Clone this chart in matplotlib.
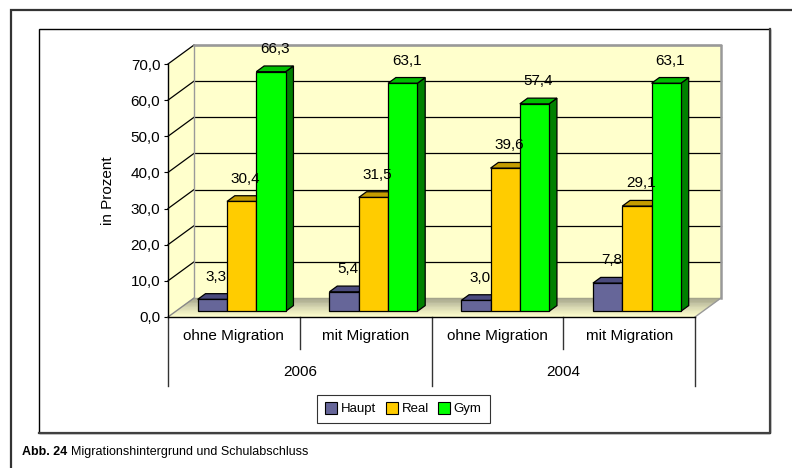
import matplotlib
matplotlib.use("Agg")
import matplotlib.pyplot as plt
from matplotlib import transforms
from matplotlib.patches import Polygon, Rectangle
from matplotlib.lines import Line2D

plt.rcParams['font.family'] = ['Liberation Sans', 'DejaVu Sans']

# data
series = ['Haupt', 'Real', 'Gym']
groups = ['ohne Migration', 'mit Migration', 'ohne Migration', 'mit Migration']
years = ['2006', '2004']
haupt = [3.3, 5.4, 3.0, 7.8]
real = [30.4, 31.5, 39.6, 29.1]
gym = [66.3, 63.1, 57.4, 63.1]
yticks = [0, 10, 20, 30, 40, 50, 60, 70]

front_colors = ['#666699', '#FFCC00', '#00FF00']
top_colors = ['#4B4B7D', '#C49C00', '#00BE00']
side_colors = ['#3F3F6A', '#A88600', '#008000']
wall_color = '#FFFFCC'


def fmt(v):
    return f"{v:.1f}".replace('.', ',')


W, H = 792, 468
fig = plt.figure(figsize=(W / 100, H / 100), dpi=100)


def px_rect(x0, y0, x1, y1):
    return [x0 / W, 1 - y1 / H, (x1 - x0) / W, (y1 - y0) / H]


ax = fig.add_axes(px_rect(168, 64, 695, 317))
ax.set_xlim(0, len(groups))
ax.set_ylim(0, 70)
ax.set_facecolor('none')
for s in ['top', 'right']:
    ax.spines[s].set_visible(False)
for s in ['left', 'bottom']:
    ax.spines[s].set_color('black')
    ax.spines[s].set_linewidth(1.0)
ax.set_xticks([])
ax.set_yticks(yticks)
ax.set_yticklabels([fmt(t) for t in yticks])
ax.tick_params(axis='y', direction='out', length=3, width=0.8, pad=2.5, labelsize=11)
ax.set_ylabel('in Prozent', fontsize=11, labelpad=11)

# pixel -> data conversion for the pseudo 3d depth
p0 = ax.transData.transform((0, 0))
p1 = ax.transData.transform((1, 1))
kx = 1.0 / (p1[0] - p0[0])
ky = 1.0 / (p1[1] - p0[1])
DEPTH_X, DEPTH_Y = 26, 19


def dep(f):
    return DEPTH_X * f * kx, DEPTH_Y * f * ky


n = len(groups)
ymax = yticks[-1]
dx, dy = dep(1.0)

# side wall and back wall
ax.add_patch(Polygon([(0, 0), (0, ymax), (dx, ymax + dy), (dx, dy)],
                     closed=True, fc=wall_color, ec='none', clip_on=False, zorder=1))
ax.add_patch(Polygon([(dx, dy), (n + dx, dy), (n + dx, ymax + dy), (dx, ymax + dy)],
                     closed=True, fc=wall_color, ec='none', clip_on=False, zorder=1))

# floor with a shaded gradient
nb = 24
c_back = (0.62, 0.62, 0.52)
c_front = (1.0, 1.0, 0.80)
for j in range(nb):
    f0, f1 = j / nb, (j + 1) / nb
    t = (j + 0.5) / nb
    col = tuple(c_front[c] + (c_back[c] - c_front[c]) * t ** 1.3 for c in range(3))
    a0, b0 = dep(f0)
    a1, b1 = dep(f1)
    ax.add_patch(Polygon([(a0, b0), (n + a0, b0), (n + a1, b1), (a1, b1)],
                         closed=True, fc=col, ec=col, lw=0.3, clip_on=False, zorder=1))

# gridlines on the walls
for v in yticks:
    if v > 0:
        ax.plot([dx, n + dx], [v + dy, v + dy], color='black', lw=0.9, clip_on=False, zorder=2)
        ax.plot([0, dx], [v, v + dy], color='black', lw=0.9, clip_on=False, zorder=2)
    else:
        ax.plot([0, dx], [v, v + dy], color='#888888', lw=1.0, clip_on=False, zorder=2)
ax.plot([dx, dx], [dy, ymax + dy], color='#999999', lw=1.0, clip_on=False, zorder=2)
ax.plot([dx, n + dx, n + dx], [ymax + dy, ymax + dy, dy], color='#999999', lw=1.8,
        clip_on=False, zorder=2)
ax.plot([n, n + dx], [0, dy], color='#999999', lw=1.0, clip_on=False, zorder=2)

# bars
values = [haupt, real, gym]
w = 0.2225
sx, sy = dep(0.3)
bx, by = dep(0.3)
for i in range(n):
    for k, vals in enumerate(values):
        v = vals[i]
        xl = i + 0.5 + (k - 1.5) * w + sx
        xr = xl + w
        b = sy
        ax.add_patch(Polygon([(xr, b), (xr + bx, b + by), (xr + bx, v + b + by), (xr, v + b)],
                             closed=True, fc=side_colors[k], ec='black', lw=0.9,
                             clip_on=False, zorder=3))
        ax.add_patch(Polygon([(xl, v + b), (xr, v + b), (xr + bx, v + b + by), (xl + bx, v + b + by)],
                             closed=True, fc=top_colors[k], ec='black', lw=0.9,
                             clip_on=False, zorder=3))
        ax.add_patch(Rectangle((xl, b), w, v, fc=front_colors[k], ec='black', lw=0.9,
                               clip_on=False, zorder=3))
        ax.annotate(fmt(v), (xl + w / 2 + bx / 2, v + b + by), xytext=(0, 17),
                    textcoords='offset pixels', ha='center', va='center',
                    fontsize=11, zorder=4, annotation_clip=False)

# category table below the floor
xtr = ax.get_xaxis_transform()
ax_h = ax.bbox.height


def below(off):
    return transforms.offset_copy(xtr, fig=fig, y=-off, units='dots')


for i, g in enumerate(groups):
    ax.text(i + 0.5, 0, g, transform=below(19), ha='center', va='center', fontsize=11)
for j, yr in enumerate(years):
    ax.text(2 * j + 1, 0, yr, transform=below(55), ha='center', va='center', fontsize=11)
for i in range(n + 1):
    depth_px = 69 if i % 2 == 0 else 32
    ax.plot([i, i], [0, -depth_px / ax_h], transform=xtr, color='#333333', lw=1.0,
            clip_on=False)

ax.set_xlim(0, n)
ax.set_ylim(0, 70)

# legend
handles = [Line2D([], [], marker='s', ls='none', markersize=8, markerfacecolor=c,
                  markeredgecolor='black', markeredgewidth=0.8) for c in front_colors]
leg = fig.legend(handles, series, loc='center', bbox_to_anchor=(403.5 / W, 1 - 409 / H),
                 ncol=3, fontsize=9.5, frameon=True, fancybox=False, shadow=False,
                 handlelength=0.9, handletextpad=0.3, columnspacing=0.7, borderpad=0.6,
                 borderaxespad=0)
leg.get_frame().set_edgecolor('black')
leg.get_frame().set_linewidth(0.8)

# frames
fig.add_artist(Rectangle((11 / W, -0.1), 1.2, 1 - 10 / H + 0.1, transform=fig.transFigure,
                         fill=False, ec='#333333', lw=1.6))
fig.add_artist(Rectangle((39 / W, 1 - 433 / H), (770 - 39) / W, (433 - 29) / H,
                         transform=fig.transFigure, fill=False, ec='black', lw=1.0))
fig.add_artist(Line2D([770 / W, 770 / W, 39 / W], [1 - 29 / H, 1 - 433 / H, 1 - 433 / H],
                      transform=fig.transFigure, color='#404040', lw=1.6))

# caption
t1 = fig.text(22 / W, 1 - 452 / H, 'Abb. 24', fontsize=9, fontweight='bold', va='center')
r = fig.canvas.get_renderer()
bb = t1.get_window_extent(renderer=r)
fig.text((bb.x1 + 3.5) / W, 1 - 452 / H, 'Migrationshintergrund und Schulabschluss',
         fontsize=9, va='center')

fig.savefig('out.png', dpi=100)
